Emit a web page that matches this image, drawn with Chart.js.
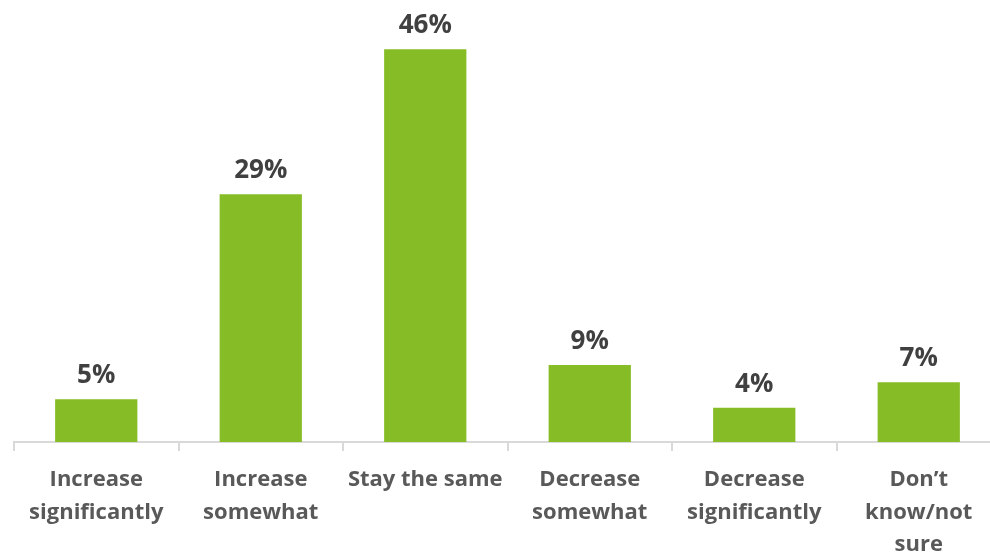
<!DOCTYPE html>
<html>
<head>
<meta charset="utf-8">
<script src="https://cdn.jsdelivr.net/npm/chart.js@4"></script>
<style>
  html, body { margin: 0; padding: 0; background: #fff; overflow: hidden; }
  #wrap { width: 1012px; height: 574px; }
</style>
</head>
<body>
<div id="wrap"><canvas id="chart" width="1012" height="574"></canvas></div>
<script>
const categories = [
    ['Increase', 'significantly'],
    ['Increase', 'somewhat'],
    'Stay the same',
    ['Decrease', 'somewhat'],
    ['Decrease', 'significantly'],
    ['Don\u2019t', 'know/not', 'sure']
];
const values = [5, 29, 46, 9, 4, 7];

// labels above the bars
const barLabels = {
    id: 'barLabels',
    afterDatasetsDraw(chart) {
        const ctx = chart.ctx;
        const meta = chart.getDatasetMeta(0);
        ctx.save();
        ctx.font = 'bold 26px "Open Sans"';
        ctx.fillStyle = '#404040';
        ctx.textAlign = 'center';
        ctx.textBaseline = 'alphabetic';
        meta.data.forEach((bar, i) => {
            ctx.fillText(values[i] + '%', bar.x, bar.y - 16);
        });
        ctx.restore();
    }
};

new Chart(document.getElementById('chart').getContext('2d'), {
    type: 'bar',
    data: {
        labels: categories,
        datasets: [{
            data: values,
            backgroundColor: '#86bc25',
            barPercentage: 0.5,
            categoryPercentage: 1
        }]
    },
    options: {
        responsive: false,
        animation: false,
        layout: { padding: { left: 14, right: 11, top: 15, bottom: 0 } },
        plugins: { legend: { display: false }, tooltip: { enabled: false } },
        scales: {
            x: {
                grid: {
                    display: true,
                    drawOnChartArea: false,
                    drawTicks: true,
                    tickLength: 9,
                    color: '#d9d9d9',
                    lineWidth: 2,
                    offset: true
                },
                border: { color: '#d9d9d9', width: 2 },
                ticks: {
                    color: '#595959',
                    font: { family: '"Open Sans"', weight: 'bold', size: 22, lineHeight: 1.47 },
                    padding: 13,
                    maxRotation: 0,
                    autoSkip: false
                }
            },
            y: {
                display: false,
                min: 0,
                max: 50
            }
        }
    },
    plugins: [barLabels]
});
</script>
</body>
</html>
